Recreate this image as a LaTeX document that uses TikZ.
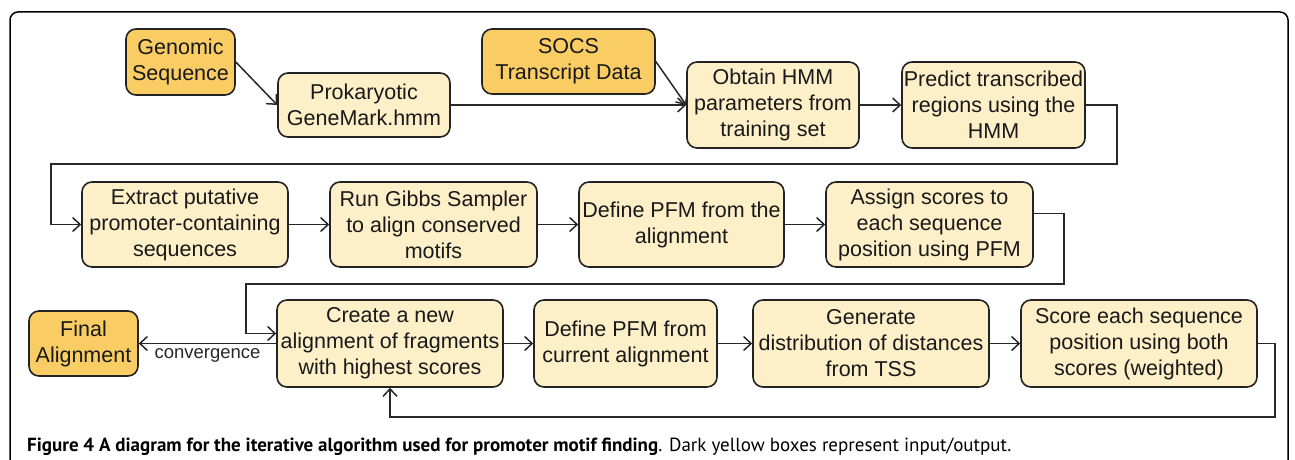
\documentclass[tikz,border=0pt]{standalone}
\usepackage{fontspec}
\usetikzlibrary{arrows.meta}
\newfontfamily\arialf{Liberation Sans}
\newfontfamily\capf{PT Sans}
\definecolor{darkY}{RGB}{249,205,100}
\definecolor{lightY}{RGB}{253,240,200}
\definecolor{bordc}{RGB}{35,35,35}
\definecolor{linec}{RGB}{40,40,40}
\tikzset{
  box/.style={draw=bordc, line width=1.6pt, rounded corners=10pt, fill=lightY,
    align=center, inner sep=0pt, font=\arialf\fontsize{21.5}{26}\selectfont, text=black!90},
  iobox/.style={box, fill=darkY},
  arr/.style={draw=linec, line width=1.5pt, -{Straight Barb[length=7.5pt,width=14pt]}},
  frame/.style={draw=black, line width=1.5pt, rounded corners=8pt}
}
\begin{document}
\begin{tikzpicture}[x=1pt,y=-1pt]
\useasboundingbox (0,0) rectangle (1295,460);
\draw[frame] (10,480) -- (10,12) -- (1288,12) -- (1288,480);
% row 1
\node[iobox, minimum width=109pt, minimum height=66pt] (gen) at (180.5,62) {Genomic\\Sequence};
\node[box, minimum width=172pt, minimum height=64pt] (pro) at (364,105) {Prokaryotic\\GeneMark.hmm};
\node[iobox, minimum width=173pt, minimum height=65pt] (socs) at (568.5,61.5) {SOCS\\Transcript Data};
\node[box, minimum width=172pt, minimum height=86pt] (obt) at (773,105) {Obtain HMM\\parameters from\\training set};
\node[box, minimum width=183pt, minimum height=86pt] (pre) at (993.5,105) {Predict transcribed\\regions using the\\HMM};
% row 2
\node[box, minimum width=206pt, minimum height=85pt] (ext) at (185,224.5) {Extract putative\\promoter-containing\\sequences};
\node[box, minimum width=207pt, minimum height=85pt] (run) at (433.5,224.5) {Run Gibbs Sampler\\to align conserved\\motifs};
\node[box, minimum width=205pt, minimum height=85pt] (def1) at (681.5,224.5) {Define PFM from the\\alignment};
\node[box, minimum width=207pt, minimum height=85pt] (asg) at (929.5,224.5) {Assign scores to\\each sequence\\position using PFM};
% row 3
\node[iobox, minimum width=109pt, minimum height=65pt] (fin) at (83.5,343.5) {Final\\Alignment};
\node[box, minimum width=226pt, minimum height=87pt] (cre) at (390,343.5) {Create a new\\alignment of fragments\\with highest scores};
\node[box, minimum width=183pt, minimum height=87pt] (def2) at (625.5,343.5) {Define PFM from\\current alignment};
\node[box, minimum width=236pt, minimum height=87pt] (gen2) at (871,343.5) {Generate\\distribution of distances\\from TSS};
\node[box, minimum width=236pt, minimum height=87pt] (sco) at (1139,343.5) {Score each sequence\\position using both\\scores (weighted)};
% loop corners
\coordinate (l1a) at (1117,164);
\coordinate (l1b) at (51,164);
\coordinate (l2a) at (1064,284);
\coordinate (l2b) at (246,284);
\coordinate (l3a) at (1275,417);
% connectors
\draw[arr] (gen.east) -- (pro.west);
\draw[arr] (pro.east) -- (obt.west);
\draw[arr] (socs.east) -- (obt.west);
\draw[arr] (obt.east) -- (pre.west);
\draw[arr] (pre.east) -| (l1a) -- (l1b) |- (ext.west);
\draw[arr] (ext.east) -- (run.west);
\draw[arr] (run.east) -- (def1.west);
\draw[arr] (def1.east) -- (asg.west);
\draw[arr] ([yshift=11pt]asg.east) -| (l2a) -- (l2b) |- ([yshift=10pt]cre.west);
\draw[arr] (cre.west) -- node[below, inner sep=4pt, font=\arialf\fontsize{18.5}{22}\selectfont, text=black!85] {convergence} (fin.east);
\draw[arr] (cre.east) -- (def2.west);
\draw[arr] (def2.east) -- (gen2.west);
\draw[arr] (gen2.east) -- (sco.west);
\draw[arr] (sco.east) -| (l3a) -| (cre.south);
% caption
\node[anchor=base west, inner sep=0pt, font=\capf\fontsize{19}{22}\selectfont] (cap) at (27,451)
  {\textbf{Figure 4 A diagram for the iterative algorithm used for promoter motif finding}. Dark yellow boxes represent input/output.};
\end{tikzpicture}
\end{document}
